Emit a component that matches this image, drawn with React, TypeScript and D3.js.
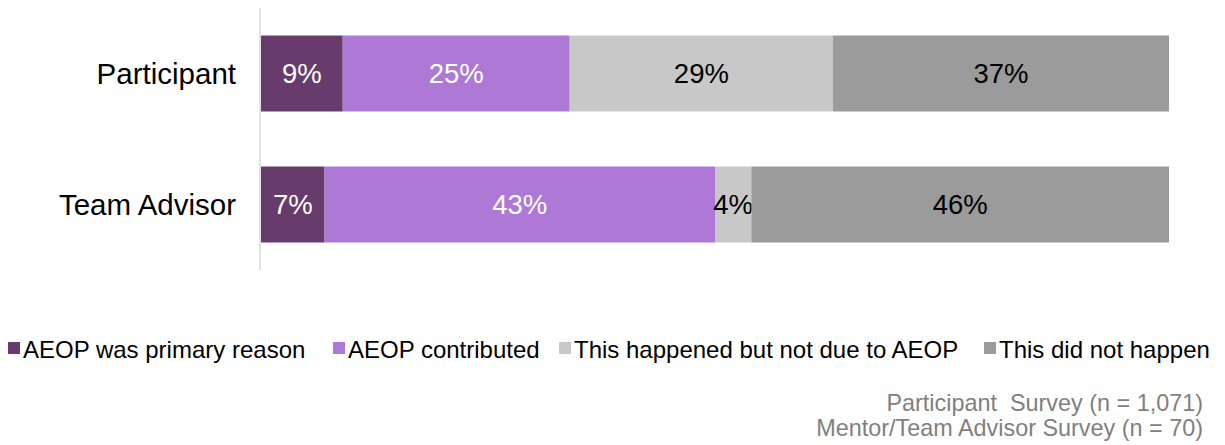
import React from "react";
import * as d3 from "d3";

const categories = ["Participant", "Team Advisor"];
const seriesNames = [
  "AEOP was primary reason",
  "AEOP contributed",
  "This happened but not due to AEOP",
  "This did not happen",
];
const participantValues = [9, 25, 29, 37];
const teamAdvisorValues = [7, 43, 4, 46];
const colors = ["#673B6B", "#AD78D6", "#C8C8C8", "#9B9B9B"];
const labelColors = ["#FFFFFF", "#FFFFFF", "#000000", "#000000"];
const footnotes = ["Participant  Survey (n = 1,071)", "Mentor/Team Advisor Survey (n = 70)"];

const W = 1225;
const H = 445;
const FONT = "'Liberation Sans', Arial, sans-serif";

export default function App() {
  const rows = [participantValues, teamAdvisorValues];
  const x = d3.scaleLinear().domain([0, 100]).range([261, 1169]);
  const y = d3.scaleBand().domain(categories).range([8, 270]).paddingInner(0.42).paddingOuter(0.21);

  const stacked = rows.map((vals) => {
    let acc = 0;
    return vals.map((v) => {
      const s = acc;
      acc += v;
      return [s, acc];
    });
  });

  const legendX = [8, 333, 559, 984];
  const legendY = 348;

  return (
    <svg
      width={W}
      height={H}
      style={{ position: "absolute", left: 0, top: 0, display: "block", background: "#fff" }}
      fontFamily={FONT}
    >
      <line x1={260} x2={260} y1={8} y2={270} stroke="#D9D9D9" strokeWidth={1.5} />
      {categories.map((c, i) => {
        const by = y(c)!;
        const bh = y.bandwidth();
        return (
          <g key={c}>
            <text x={236} y={by + bh / 2} textAnchor="end" dominantBaseline="central" fontSize={29.5} fill="#000">
              {c}
            </text>
            {stacked[i].map(([s, e], j) => (
              <g key={j}>
                <rect x={x(s)} y={by} width={x(e) - x(s)} height={bh} fill={colors[j]} />
                <text
                  x={(x(s) + x(e)) / 2}
                  y={by + bh / 2}
                  textAnchor="middle"
                  dominantBaseline="central"
                  fontSize={27.5}
                  fill={labelColors[j]}
                >
                  {rows[i][j]}%
                </text>
              </g>
            ))}
          </g>
        );
      })}
      {seriesNames.map((n, j) => (
        <g key={n}>
          <rect x={legendX[j]} y={legendY - 6} width={12} height={12} fill={colors[j]} />
          <text x={legendX[j] + 15} y={legendY + 1} dominantBaseline="central" fontSize={24} fill="#000">
            {n}
          </text>
        </g>
      ))}
      {footnotes.map((f, k) => (
        <text
          key={k}
          x={1203}
          y={403 + k * 25}
          textAnchor="end"
          dominantBaseline="central"
          fontSize={23.4}
          fill="#7F7F7F"
          style={{ whiteSpace: "pre" }}
        >
          {f}
        </text>
      ))}
    </svg>
  );
}
